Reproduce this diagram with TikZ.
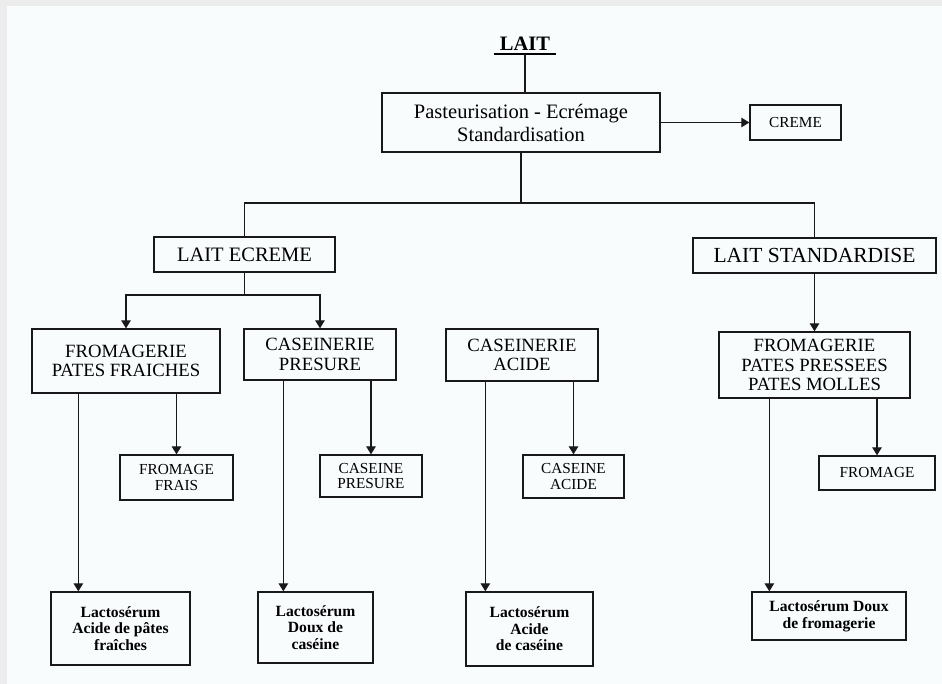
\documentclass[tikz,border=0pt]{standalone}
\usepackage{fontspec}
\setmainfont{Liberation Serif}
\usetikzlibrary{arrows.meta,calc}
\definecolor{pagebg}{HTML}{F8FCFD}
\definecolor{framegray}{HTML}{ECECEC}
\tikzset{
  stepbox/.style={draw=black!90, line width=1.3pt, align=center, inner sep=0pt, font=\fontsize{18.7}{19.5}\selectfont},
  prodbox/.style={stepbox, font=\fontsize{15.3}{15.6}\selectfont},
  wheybox/.style={stepbox, font=\bfseries\fontsize{15.6}{16.6}\selectfont},
  flowline/.style={line width=1.2pt, draw=black!90},
  flowarrow/.style={flowline, -{Triangle[length=8pt,width=9.5pt]}},
}
\begin{document}
\begin{tikzpicture}[x=1pt, y=-1pt]
    % page
    \fill[framegray] (0,0) rectangle (942,684);
    \fill[pagebg] (7,6) rectangle (942,684);
    \useasboundingbox (0,0) rectangle (942,684);

    % top
    \node[anchor=south, inner xsep=6pt, inner ysep=3pt, font=\bfseries\fontsize{20.5}{22}\selectfont] (lait) at (525,54) {LAIT};
    \draw[line width=1.8pt] (lait.south west) -- (lait.south east);
    \node[stepbox, minimum width=278pt, minimum height=59pt, font=\fontsize{20.5}{23}\selectfont] (pasteur) at (521,122.5) {Pasteurisation - Ecrémage\\Standardisation};
    \node[prodbox, minimum width=91pt, minimum height=35pt] (creme) at (795.5,122.5) {CREME};
    \draw[flowline] (lait.south) -- (lait.south |- pasteur.north);
    \draw[flowarrow] (pasteur.east) -- (creme.west);

    % milk streams
    \node[stepbox, minimum width=181pt, minimum height=35pt, font=\fontsize{20.5}{22}\selectfont] (ecreme) at (244.5,254.5) {LAIT ECREME};
    \node[stepbox, minimum width=243pt, minimum height=35pt, font=\fontsize{21.5}{22}\selectfont] (standard) at (814.5,255.5) {LAIT STANDARDISE};
    \coordinate (split) at (521,203);
    \draw[flowline] (pasteur.south) -- (split);
    \draw[flowline] (ecreme.north) |- (split) -| (standard.north);

    % workshops
    \node[stepbox, minimum width=188pt, minimum height=64pt] (fpf) at (126,361) {FROMAGERIE\\PATES FRAICHES};
    \node[stepbox, minimum width=152pt, minimum height=51pt] (cpres) at (320,354.5) {CASEINERIE\\PRESURE};
    \node[stepbox, minimum width=152pt, minimum height=52pt] (cacide) at (522,355) {CASEINERIE\\ACIDE};
    \node[stepbox, minimum width=191pt, minimum height=66pt] (fpp) at (814.5,365) {FROMAGERIE\\PATES PRESSEES\\PATES MOLLES};
    \coordinate (esplit) at (244.5,295);
    \draw[flowarrow] (ecreme.south) -- (esplit) -| (fpf.north);
    \draw[flowarrow] (esplit) -| (cpres.north);
    \draw[flowarrow] (standard.south) -- (fpp.north);

    % products
    \node[prodbox, minimum width=113pt, minimum height=45pt] (frais) at (176.5,477.5) {FROMAGE\\FRAIS};
    \node[prodbox, minimum width=102pt, minimum height=42pt] (cpresure) at (371,476) {CASEINE\\PRESURE};
    \node[prodbox, minimum width=101pt, minimum height=43pt] (cac) at (573.5,476.5) {CASEINE\\ACIDE};
    \node[prodbox, minimum width=116pt, minimum height=34pt] (fromage) at (877,473) {FROMAGE};
    \foreach \src/\dst in {fpf/frais, cpres/cpresure, cacide/cac, fpp/fromage}
        \draw[flowarrow] (\src.south -| \dst.north) -- (\dst.north);

    % whey
    \node[wheybox, minimum width=139pt, minimum height=73pt] (lpf) at (120.5,628.5) {Lactosérum\\Acide de pâtes\\fraîches};
    \node[wheybox, minimum width=115pt, minimum height=71pt] (lcas) at (315.5,627.5) {Lactosérum\\Doux de\\caséine};
    \node[wheybox, minimum width=127pt, minimum height=74pt] (lac) at (529.5,629) {Lactosérum\\Acide\\de caséine};
    \node[wheybox, minimum width=154pt, minimum height=48pt] (lfro) at (829,616) {Lactosérum Doux\\de fromagerie};
    \foreach \src/\dst/\dx in {fpf/lpf/28, cpres/lcas/26, cacide/lac/20, fpp/lfro/18}
        \draw[flowarrow] let \p1=([xshift=\dx pt]\dst.north west), \p2=(\src.south) in (\x1,\y2) -- (\p1);
\end{tikzpicture}
\end{document}
